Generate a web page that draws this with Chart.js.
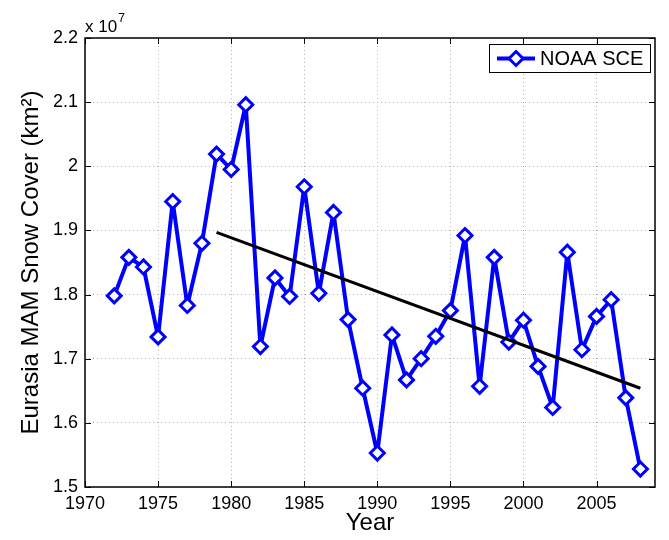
<!DOCTYPE html>
<html>
<head>
<meta charset="utf-8">
<title>Eurasia MAM Snow Cover</title>
<script src="https://cdn.jsdelivr.net/npm/chart.js@4/dist/chart.umd.min.js"></script>
<style>
    html, body { margin: 0; padding: 0; background: #fff; }
    #wrap { width: 669px; height: 540px; }
</style>
</head>
<body>
<div id="wrap"><canvas id="snow-chart" width="669" height="540"></canvas></div>
<script>
// Data (values in units of 1e7 km^2)
const years = [1972, 1973, 1974, 1975, 1976, 1977, 1978, 1979, 1980, 1981,
               1982, 1983, 1984, 1985, 1986, 1987, 1988, 1989, 1990, 1991,
               1992, 1993, 1994, 1995, 1996, 1997, 1998, 1999, 2000, 2001,
               2002, 2003, 2004, 2005, 2006, 2007, 2008];
const snowCover = [1.798, 1.858, 1.843, 1.734, 1.945, 1.783, 1.880, 2.019, 1.995, 2.096,
                   1.719, 1.826, 1.797, 1.968, 1.802, 1.928, 1.761, 1.654, 1.553, 1.737,
                   1.667, 1.700, 1.735, 1.775, 1.892, 1.657, 1.858, 1.726, 1.760, 1.688,
                   1.624, 1.866, 1.714, 1.766, 1.792, 1.639, 1.528];
const trendYears = [1979, 2008];
const trendValues = [1.897, 1.654];
const xTicks = [1970, 1975, 1980, 1985, 1990, 1995, 2000, 2005];
const yTicks = [1.5, 1.6, 1.7, 1.8, 1.9, 2.0, 2.1, 2.2];

const FONT = '"Liberation Sans", Arial, Helvetica, sans-serif';
const BLUE = '#0000ff';

// Draws a diamond like the chart markers
function diamond(ctx, x, y, r) {
    ctx.beginPath();
    ctx.moveTo(x, y - r);
    ctx.lineTo(x + r, y);
    ctx.lineTo(x, y + r);
    ctx.lineTo(x - r, y);
    ctx.closePath();
    ctx.fillStyle = '#fff';
    ctx.fill();
    ctx.lineWidth = 3;
    ctx.strokeStyle = BLUE;
    ctx.stroke();
}

// MATLAB style frame: full box, inward ticks, exponent label and legend
const matlabFrame = {
    id: 'matlabFrame',
    afterDraw(chart) {
        const ctx = chart.ctx;
        const area = chart.chartArea;
        const xs = chart.scales.x;
        const ys = chart.scales.y;
        const tick = 6;

        ctx.save();
        ctx.strokeStyle = '#000';
        ctx.lineWidth = 1;

        ctx.beginPath();
        xTicks.forEach(v => {
            const px = Math.round(xs.getPixelForValue(v)) + 0.5;
            ctx.moveTo(px, area.bottom);
            ctx.lineTo(px, area.bottom - tick);
            ctx.moveTo(px, area.top);
            ctx.lineTo(px, area.top + tick);
        });
        yTicks.forEach(v => {
            const py = Math.round(ys.getPixelForValue(v)) + 0.5;
            ctx.moveTo(area.left, py);
            ctx.lineTo(area.left + tick, py);
            ctx.moveTo(area.right, py);
            ctx.lineTo(area.right - tick, py);
        });
        ctx.stroke();

        ctx.lineWidth = 1.5;
        ctx.strokeRect(area.left, area.top, area.right - area.left, area.bottom - area.top);

        // exponent label
        ctx.fillStyle = '#000';
        ctx.textBaseline = 'alphabetic';
        ctx.textAlign = 'left';
        ctx.font = '17px ' + FONT;
        ctx.fillText('x 10', area.left, area.top - 6);
        const w = ctx.measureText('x 10').width;
        ctx.font = '12px ' + FONT;
        ctx.fillText('7', area.left + w + 1, area.top - 16);

        // legend
        const label = chart.data.datasets[0].label;
        const bx = 489, by = 44, bw = 161, bh = 28;
        ctx.fillStyle = '#fff';
        ctx.fillRect(bx, by, bw, bh);
        ctx.lineWidth = 1;
        ctx.strokeStyle = '#000';
        ctx.strokeRect(bx + 0.5, by + 0.5, bw, bh);
        const ly = by + bh / 2 + 0.5;
        ctx.beginPath();
        ctx.moveTo(bx + 8, ly);
        ctx.lineTo(bx + 46, ly);
        ctx.lineWidth = 4;
        ctx.strokeStyle = BLUE;
        ctx.stroke();
        diamond(ctx, bx + 27, ly, 7);
        ctx.fillStyle = '#000';
        ctx.font = '20px ' + FONT;
        ctx.textBaseline = 'middle';
        ctx.fillText(label, bx + 51, ly + 1);

        ctx.restore();
    }
};

new Chart(document.getElementById('snow-chart'), {
    type: 'line',
    data: {
        datasets: [
            {
                label: 'NOAA SCE',
                data: years.map((y, i) => ({ x: y, y: snowCover[i] })),
                borderColor: BLUE,
                borderWidth: 4,
                borderJoinStyle: 'round',
                pointStyle: 'rectRot',
                pointRadius: 7,
                pointBorderWidth: 3,
                pointBorderColor: BLUE,
                pointBackgroundColor: '#fff',
                tension: 0,
                order: 2
            },
            {
                label: 'Trend',
                data: trendYears.map((y, i) => ({ x: y, y: trendValues[i] })),
                borderColor: '#000',
                borderWidth: 3,
                pointRadius: 0,
                tension: 0,
                order: 1
            }
        ]
    },
    options: {
        responsive: false,
        animation: false,
        layout: { padding: { top: 38, right: 14, left: 0, bottom: 0 } },
        plugins: {
            legend: { display: false },
            tooltip: { enabled: false }
        },
        scales: {
            x: {
                type: 'linear',
                min: 1970,
                max: 2009,
                afterBuildTicks: s => { s.ticks = xTicks.map(v => ({ value: v })); },
                afterFit: s => { s.height = 53; },
                ticks: {
                    color: '#000',
                    padding: 6,
                    maxRotation: 0,
                    font: { family: FONT, size: 18 },
                    callback: v => String(v)
                },
                grid: { color: '#b4b4b4', lineWidth: 1, drawTicks: false },
                border: { display: false, dash: [1, 3] },
                title: {
                    display: true,
                    text: 'Year',
                    color: '#000',
                    font: { family: FONT, size: 24 },
                    padding: { top: 0, bottom: 2 }
                }
            },
            y: {
                min: 1.5,
                max: 2.2,
                afterBuildTicks: s => { s.ticks = yTicks.map(v => ({ value: v })); },
                afterFit: s => { s.width = 85; },
                ticks: {
                    color: '#000',
                    padding: 7,
                    font: { family: FONT, size: 18 },
                    callback: v => String(parseFloat(v.toFixed(1)))
                },
                grid: { color: '#b4b4b4', lineWidth: 1, drawTicks: false },
                border: { display: false, dash: [1, 3] },
                title: {
                    display: true,
                    text: 'Eurasia MAM Snow Cover (km²)',
                    color: '#000',
                    font: { family: FONT, size: 24 },
                    padding: { top: 17, bottom: 0 }
                }
            }
        }
    },
    plugins: [matlabFrame]
});
</script>
</body>
</html>
